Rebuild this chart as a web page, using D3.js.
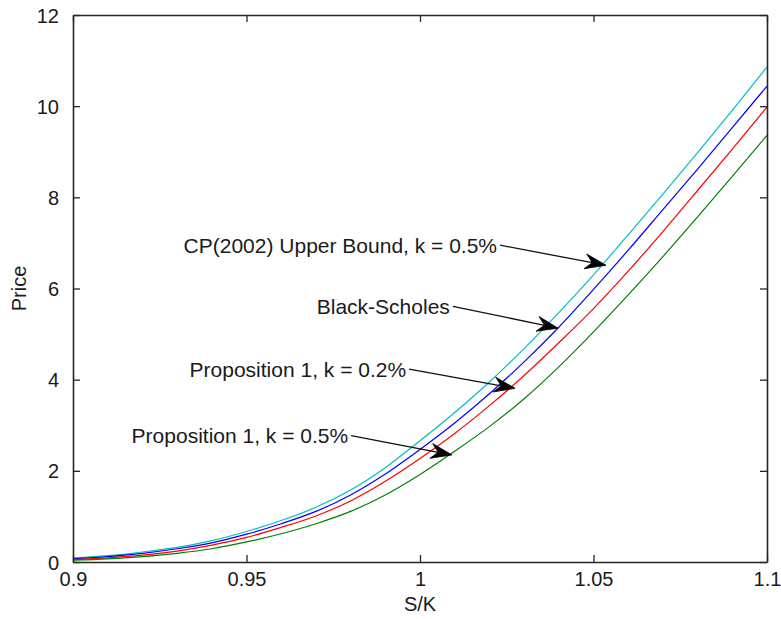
<!DOCTYPE html>
<html>
<head>
<meta charset="utf-8">
<script src="https://cdn.jsdelivr.net/npm/d3@7"></script>
<style>
  html, body { margin: 0; padding: 0; background: #fff; }
  svg { display: block; }
  text { font-family: "Liberation Sans", Arial, Helvetica, sans-serif; fill: #1a1a1a; }
</style>
</head>
<body>
<svg id="chart" width="781" height="619"></svg>
<script>
// ---- data ----
const sk = [0.90,0.91,0.92,0.93,0.94,0.95,0.96,0.97,0.98,0.99,1.00,1.01,1.02,1.03,1.04,1.05,1.06,1.07,1.08,1.09,1.10];
const cpUpper = [0.09,0.14,0.22,0.32,0.47,0.67,0.91,1.20,1.58,2.07,2.66,3.28,3.95,4.68,5.47,6.30,7.18,8.07,8.98,9.91,10.86];
const blackScholes = [0.07,0.12,0.19,0.29,0.42,0.61,0.84,1.11,1.47,1.93,2.47,3.05,3.69,4.39,5.15,5.98,6.84,7.73,8.62,9.53,10.44];
const prop02 = [0.05,0.09,0.15,0.24,0.37,0.54,0.76,1.01,1.34,1.77,2.27,2.82,3.43,4.09,4.81,5.56,6.38,7.25,8.15,9.06,9.98];
const prop05 = [0.04,0.07,0.12,0.19,0.29,0.44,0.62,0.84,1.11,1.47,1.92,2.43,2.97,3.58,4.28,5.05,5.86,6.70,7.57,8.46,9.36];
const seriesNames = ["CP(2002) Upper Bound, k = 0.5%","Black-Scholes","Proposition 1, k = 0.2%","Proposition 1, k = 0.5%"];
const seriesValues = [cpUpper, blackScholes, prop02, prop05];
const seriesColors = ["#00bfbf","#0000ff","#ff0000","#008000"];
const xTicks = [0.9,0.95,1,1.05,1.1];
const xTickLabels = ["0.9","0.95","1","1.05","1.1"];
const yTicks = [0,2,4,6,8,10,12];
const yTickLabels = ["0","2","4","6","8","10","12"];
// annotation: label, text right-end (data), arrow tip (data)
const annLabels = ["CP(2002) Upper Bound, k = 0.5%","Black-Scholes","Proposition 1, k = 0.2%","Proposition 1, k = 0.5%"];
const annTextX = [1.0222,1.0086,0.9960,0.9793];
const annTextY = [6.95,5.61,4.23,2.77];
const annTipX = [1.0536,1.0398,1.0274,1.0092];
const annTipY = [6.51,5.13,3.81,2.35];

// ---- layout ----
const svg = d3.select("#chart");
const L = 73, T = 15, W = 694, H = 547;
const x = d3.scaleLinear().domain([0.9,1.1]).range([L, L+W]);
const y = d3.scaleLinear().domain([0,12]).range([T+H, T]);
const axisColor = "#262626";

// curves
const line = d3.line().x(d => x(d[0])).y(d => y(d[1])).curve(d3.curveMonotoneX);
seriesValues.forEach((vals, i) => {
  svg.append("path")
    .datum(sk.map((s, j) => [s, vals[j]]))
    .attr("d", line)
    .attr("fill", "none")
    .attr("stroke", seriesColors[i])
    .attr("stroke-width", 1.2);
});

// axes with inward ticks (MATLAB-style box)
const fs = 20, fsText = 21;
const gB = svg.append("g").attr("transform", `translate(0,${T+H})`)
  .call(d3.axisBottom(x).tickValues(xTicks).tickFormat((d,i)=>xTickLabels[i]).tickSizeInner(-7).tickSizeOuter(0).tickPadding(14));
const gT = svg.append("g").attr("transform", `translate(0,${T})`)
  .call(d3.axisTop(x).tickValues(xTicks).tickFormat("").tickSizeInner(-7).tickSizeOuter(0));
const gL = svg.append("g").attr("transform", `translate(${L},0)`)
  .call(d3.axisLeft(y).tickValues(yTicks).tickFormat((d,i)=>yTickLabels[i]).tickSizeInner(-7).tickSizeOuter(0).tickPadding(14));
const gR = svg.append("g").attr("transform", `translate(${L+W},0)`)
  .call(d3.axisRight(y).tickValues(yTicks).tickFormat("").tickSizeInner(-7).tickSizeOuter(0));
[gB,gT,gL,gR].forEach(g => {
  g.select(".domain").attr("stroke", axisColor).attr("stroke-width", 1.6);
  g.selectAll(".tick line").attr("stroke", axisColor).attr("stroke-width", 1.3);
  g.selectAll("text").attr("font-size", fs).attr("font-family", null).style("fill", "#1a1a1a");
});
gB.selectAll("text").attr("dy", "0.5em");
gL.selectAll("text").attr("dy", "0.35em");

// axis labels
svg.append("text").attr("x", L + W/2).attr("y", 604).attr("text-anchor","middle")
  .attr("dominant-baseline","central").attr("font-size", fs).text("S/K");
svg.append("text").attr("transform", `translate(19,${T+H/2}) rotate(-90)`).attr("text-anchor","middle")
  .attr("dominant-baseline","central").attr("font-size", fs).text("Price");

// annotations
annLabels.forEach((lab, i) => {
  const tx = x(annTextX[i]), ty = y(annTextY[i]);
  const px = x(annTipX[i]), py = y(annTipY[i]);
  svg.append("text").attr("x", tx).attr("y", ty).attr("text-anchor","end")
    .attr("dominant-baseline","central").attr("font-size", fsText).text(lab);
  const sx = tx + 3, sy = ty;
  const ang = Math.atan2(py - sy, px - sx);
  const len = 21, half = 7.5, back = 14;
  const ux = Math.cos(ang), uy = Math.sin(ang);
  const nx = -uy, ny = ux;
  svg.append("line").attr("x1", sx).attr("y1", sy)
    .attr("x2", px - ux*back).attr("y2", py - uy*back)
    .attr("stroke", "#111").attr("stroke-width", 1.3);
  const b1 = [px - ux*len + nx*half, py - uy*len + ny*half];
  const b2 = [px - ux*len - nx*half, py - uy*len - ny*half];
  const mid = [px - ux*back, py - uy*back];
  svg.append("path")
    .attr("d", `M${px},${py}L${b1[0]},${b1[1]}L${mid[0]},${mid[1]}L${b2[0]},${b2[1]}Z`)
    .attr("fill", "#000").attr("stroke", "#000").attr("stroke-width", 0.8);
});
</script>
</body>
</html>
